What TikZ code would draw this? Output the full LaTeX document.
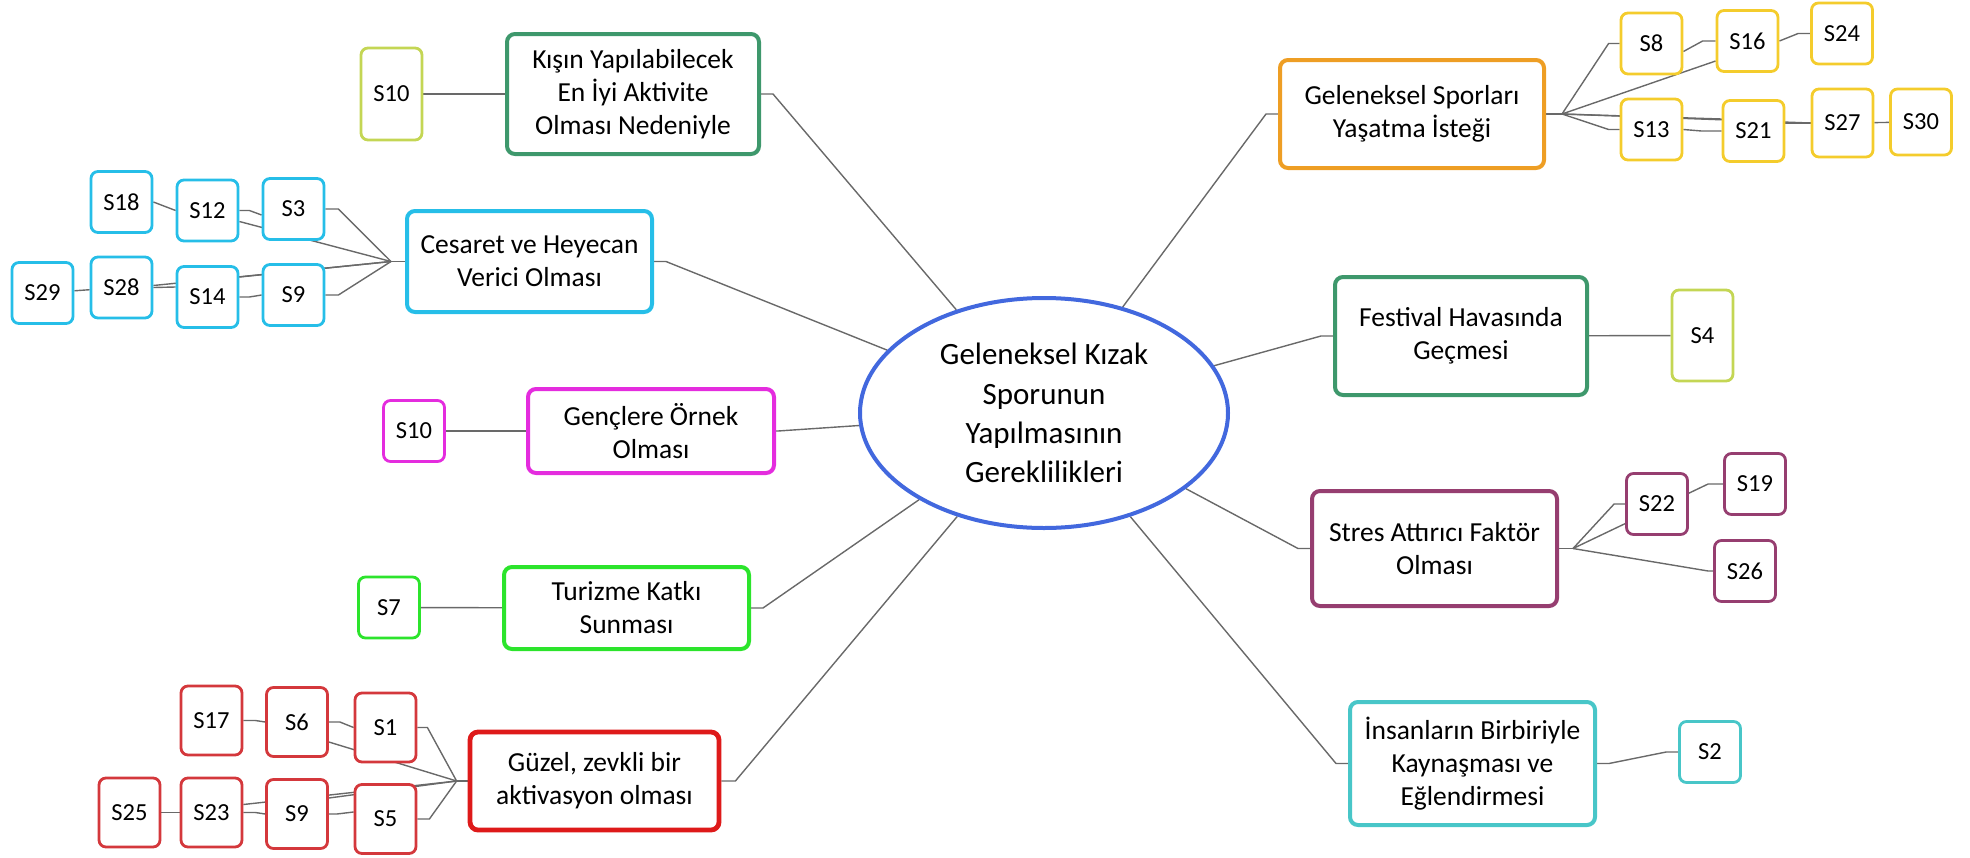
\documentclass[tikz,border=0pt]{standalone}
\usepackage{fontspec}
\setmainfont{Carlito}
\usetikzlibrary{shapes.geometric, backgrounds}

\definecolor{seaGreen}{RGB}{62,152,108}
\definecolor{limeGreen}{RGB}{196,214,84}
\definecolor{skyCyan}{RGB}{38,190,232}
\definecolor{hotMagenta}{RGB}{228,44,222}
\definecolor{brightGreen}{RGB}{44,228,44}
\definecolor{fireRed}{RGB}{222,26,26}
\definecolor{leafRed}{RGB}{212,56,60}
\definecolor{deepOrange}{RGB}{238,158,36}
\definecolor{sunYellow}{RGB}{244,204,44}
\definecolor{plumPurple}{RGB}{150,62,112}
\definecolor{aquaTeal}{RGB}{72,198,200}
\definecolor{royalBlue}{RGB}{66,104,222}
\definecolor{lineGray}{RGB}{105,105,105}

\begin{document}
\begin{tikzpicture}[x = 0.5pt, y = -0.5pt]
	\tikzstyle{mainStyle}=[rectangle, rounded corners = 4pt, line width = 2pt, fill = white, align = center, inner sep = 0pt, font = \fontsize{13.75}{16.5}\selectfont]
	\tikzstyle{leafStyle}=[rectangle, rounded corners = 3.5pt, line width = 1.4pt, fill = white, inner sep = 0pt, minimum width = 30.5pt, minimum height = 30.5pt, font = \fontsize{12.25}{14}\selectfont]
	\tikzstyle{rootStyle}=[ellipse, line width = 2pt, draw = royalBlue, fill = white, align = center, inner sep = 0pt, minimum width = 184pt, minimum height = 115pt, font = \fontsize{15.5}{19.6}\selectfont]
	\tikzstyle{edgeStyle}=[draw = lineGray, line width = 0.7pt]
	\useasboundingbox (0,0) rectangle (1970,857);
	\node[rootStyle] (root) at (1044,413) {Geleneksel Kızak\\Sporunun\\Yapılmasının\\Gereklilikleri};
	\node[mainStyle, draw = seaGreen, minimum width = 126pt, minimum height = 60pt] (kis) at (633,94) {Kışın Yapılabilecek\\En İyi Aktivite\\Olması Nedeniyle};
	\node[mainStyle, draw = skyCyan, minimum width = 122.5pt, minimum height = 50.5pt] (ces) at (529.5,261.5) {Cesaret ve Heyecan\\Verici Olması};
	\node[mainStyle, draw = hotMagenta, minimum width = 123pt, minimum height = 42pt] (gen) at (651,431) {Gençlere Örnek\\Olması};
	\node[mainStyle, draw = brightGreen, minimum width = 122.5pt, minimum height = 41pt] (tur) at (626.5,608) {Turizme Katkı\\Sunması};
	\node[mainStyle, draw = fireRed, line width = 2.4pt, minimum width = 124.5pt, minimum height = 49pt] (guz) at (594.5,781) {Güzel, zevkli bir\\aktivasyon olması};
	\node[mainStyle, draw = deepOrange, minimum width = 132pt, minimum height = 54pt] (gel) at (1412,114) {Geleneksel Sporları\\Yaşatma İsteği};
	\node[mainStyle, draw = seaGreen, minimum width = 126pt, minimum height = 59pt] (fes) at (1461,336) {Festival Havasında\\Geçmesi};
	\node[mainStyle, draw = plumPurple, minimum width = 122.5pt, minimum height = 57.5pt] (str) at (1434.5,548.5) {Stres Attırıcı Faktör\\Olması};
	\node[mainStyle, draw = aquaTeal, minimum width = 122.5pt, minimum height = 61.5pt] (ins) at (1472.5,763.5) {İnsanların Birbiriyle\\Kaynaşması ve\\Eğlendirmesi};
	\node[leafStyle, draw = limeGreen, minimum height = 46pt] (s10a) at (391.5,94) {S10};
	\node[leafStyle, draw = skyCyan] (s18) at (121.5,202) {S18};
	\node[leafStyle, draw = skyCyan] (s12) at (207.5,210.5) {S12};
	\node[leafStyle, draw = skyCyan] (s3) at (293.5,209) {S3};
	\node[leafStyle, draw = skyCyan] (s29) at (42.5,293) {S29};
	\node[leafStyle, draw = skyCyan] (s28) at (121.5,287.5) {S28};
	\node[leafStyle, draw = skyCyan] (s14) at (207.5,297) {S14};
	\node[leafStyle, draw = skyCyan] (s9a) at (293.5,295) {S9};
	\node[leafStyle, draw = hotMagenta] (s10b) at (414,431) {S10};
	\node[leafStyle, draw = brightGreen] (s7) at (389,607.5) {S7};
	\node[leafStyle, draw = leafRed, minimum height = 34.5pt] (s17) at (211.5,720.5) {S17};
	\node[leafStyle, draw = leafRed, minimum height = 34.5pt] (s6) at (297,722) {S6};
	\node[leafStyle, draw = leafRed, minimum height = 34.5pt] (s1) at (385.5,727.5) {S1};
	\node[leafStyle, draw = leafRed, minimum height = 34.5pt] (s25) at (129.5,812.5) {S25};
	\node[leafStyle, draw = leafRed, minimum height = 34.5pt] (s23) at (211.5,812.5) {S23};
	\node[leafStyle, draw = leafRed, minimum height = 34.5pt] (s9b) at (297,814) {S9};
	\node[leafStyle, draw = leafRed, minimum height = 34.5pt] (s5) at (385.5,819) {S5};
	\node[leafStyle, draw = sunYellow] (s8) at (1651.5,43.5) {S8};
	\node[leafStyle, draw = sunYellow] (s16) at (1747.5,41) {S16};
	\node[leafStyle, draw = sunYellow] (s24) at (1842,33.5) {S24};
	\node[leafStyle, draw = sunYellow] (s13) at (1651.5,129.5) {S13};
	\node[leafStyle, draw = sunYellow] (s21) at (1753.5,131) {S21};
	\node[leafStyle, draw = sunYellow, minimum height = 34pt] (s27) at (1842.5,123) {S27};
	\node[leafStyle, draw = sunYellow, minimum height = 33pt] (s30) at (1921,122) {S30};
	\node[leafStyle, draw = limeGreen, minimum height = 45.5pt] (s4) at (1702.5,335.5) {S4};
	\node[leafStyle, draw = plumPurple] (s22) at (1657,504) {S22};
	\node[leafStyle, draw = plumPurple] (s19) at (1755,484) {S19};
	\node[leafStyle, draw = plumPurple] (s26) at (1745,571) {S26};
	\node[leafStyle, draw = aquaTeal] (s2) at (1710,752) {S2};
	\coordinate (hubCes) at ([xshift = -7pt]ces.west);
	\coordinate (hubGuz) at ([xshift = -5.5pt]guz.west);
	\coordinate (hubGel) at ([xshift = 8pt]gel.east);
	\coordinate (hubStr) at ([xshift = 7pt]str.east);
	\begin{scope}[on background layer]
		\draw[edgeStyle] (kis.east) -- ++(6pt,0) -- (root);
		\draw[edgeStyle] (ces.east) -- ++(6pt,0) -- (root);
		\draw[edgeStyle] (gen.east) -- ++(1pt,0) -- (root);
		\draw[edgeStyle] (tur.east) -- ++(6pt,0) -- (root);
		\draw[edgeStyle] (guz.east) -- ++(7pt,0) -- (root);
		\draw[edgeStyle] (gel.west) -- ++(-6pt,0) -- (root);
		\draw[edgeStyle] (fes.west) -- ++(-6pt,0) -- (root);
		\draw[edgeStyle] (str.west) -- ++(-6pt,0) -- (root);
		\draw[edgeStyle] (ins.west) -- ++(-6pt,0) -- (root);
		\draw[edgeStyle] (s10a) -- (kis);
		\draw[edgeStyle] (s10b) -- (gen);
		\draw[edgeStyle] (s7) -- (tur);
		\draw[edgeStyle] (fes) -- (s4);
		\draw[edgeStyle] (ins.east) -- ++(6pt,0) -- ([xshift = -6pt]s2.west) -- (s2.west);
		\draw[edgeStyle] (ces.west) -- (hubCes);
		\draw[edgeStyle] (hubCes) -- ([xshift = 6.5pt]s3.east) -- (s3.east);
		\draw[edgeStyle] (hubCes) -- ([yshift = -5.5pt]s12.east);
		\draw[edgeStyle] (s12.east) -- ++(5pt,0) -- ([yshift = -3pt]s3.west);
		\draw[edgeStyle] (s18.east) -- (s12.west);
		\draw[edgeStyle] (hubCes) -- ([xshift = 6.5pt]s9a.east) -- (s9a.east);
		\draw[edgeStyle] (hubCes) -- ([yshift = 10pt]s14.east);
		\draw[edgeStyle] (hubCes) -- ([yshift = 1pt]s28.east);
		\draw[edgeStyle] (s14.east) -- ++(5pt,0) -- (s9a.west);
		\draw[edgeStyle] (s28.east) -- ([yshift = 5pt]s14.west);
		\draw[edgeStyle] (s29) -- (s28);
		\draw[edgeStyle] (guz.west) -- (hubGuz);
		\draw[edgeStyle] (hubGuz) -- ([xshift = 5pt]s1.east) -- (s1.east);
		\draw[edgeStyle] (hubGuz) -- ([yshift = -10pt]s6.east);
		\draw[edgeStyle] (s6.east) -- ++(5.5pt,0) -- (s1.west);
		\draw[edgeStyle] (s17.east) -- ++(6pt,0) -- (s6.west);
		\draw[edgeStyle] (hubGuz) -- ([xshift = 6pt]s5.east) -- (s5.east);
		\draw[edgeStyle] (hubGuz) -- ([yshift = 8pt]s9b.east);
		\draw[edgeStyle] (hubGuz) -- ([yshift = 4pt]s23.east);
		\draw[edgeStyle] (s9b.east) -- ++(4pt,0) -- ([yshift = 3.5pt]s5.west);
		\draw[edgeStyle] (s23.east) -- ++(6pt,0) -- (s9b.west);
		\draw[edgeStyle] (s25) -- (s23);
		\draw[edgeStyle] (gel.east) -- (hubGel);
		\draw[edgeStyle] (hubGel) -- ([xshift = -5.5pt]s8.west) -- (s8.west);
		\draw[edgeStyle] (hubGel) -- ([yshift = -10pt]s16.west);
		\draw[edgeStyle] ([yshift = -4pt]s8.east) -- ([xshift = -6.5pt]s16.west) -- (s16.west);
		\draw[edgeStyle] (s16.east) -- ([xshift = -6pt]s24.west) -- (s24.west);
		\draw[edgeStyle] (hubGel) -- ([xshift = -5.5pt]s13.west) -- (s13.west);
		\draw[edgeStyle] (hubGel) -- ([yshift = 6pt]s21.west);
		\draw[edgeStyle] (hubGel) -- (s27.west);
		\draw[edgeStyle] (s13.east) -- ([xshift = -10pt]s21.west) -- (s21.west);
		\draw[edgeStyle] ([yshift = 4pt]s21.east) -- (s27.west);
		\draw[edgeStyle] (s27) -- (s30);
		\draw[edgeStyle] (str.east) -- (hubStr);
		\draw[edgeStyle] (hubStr) -- ([xshift = -5.5pt]s22.west) -- (s22.west);
		\draw[edgeStyle] (hubStr) -- ([xshift = -7.5pt]s19.west) -- (s19.west);
		\draw[edgeStyle] (hubStr) -- ([xshift = -2.5pt]s26.west) -- (s26.west);
	\end{scope}
\end{tikzpicture}
\end{document}
